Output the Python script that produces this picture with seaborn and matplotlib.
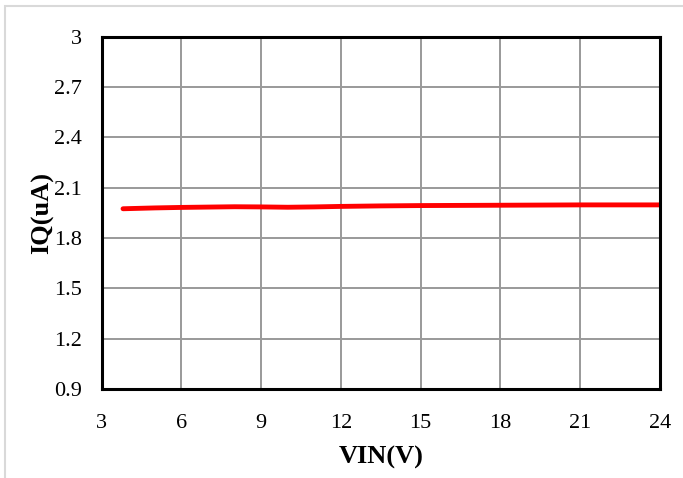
import matplotlib
matplotlib.use("Agg")
import matplotlib.pyplot as plt
import seaborn as sns
import pandas as pd

# data
vin = [3.8, 5.0, 6.0, 7.0, 8.0, 9.0, 10.0, 11.0, 12.0, 13.5, 15.0, 16.5, 18.0, 19.5, 21.0, 22.5, 24.0]
iq = [1.975, 1.980, 1.983, 1.985, 1.987, 1.986, 1.984, 1.986, 1.989, 1.992, 1.994, 1.995, 1.996, 1.997, 1.998, 1.998, 1.998]
x_ticks = [3, 6, 9, 12, 15, 18, 21, 24]
y_ticks = [0.9, 1.2, 1.5, 1.8, 2.1, 2.4, 2.7, 3.0]
y_tick_labels = ["0.9", "1.2", "1.5", "1.8", "2.1", "2.4", "2.7", "3"]

df = pd.DataFrame({"VIN": vin, "IQ": iq})

sns.set_theme(style="white")
plt.rcParams['font.family'] = ['Liberation Serif', 'DejaVu Serif']
plt.rcParams['text.color'] = 'black'
plt.rcParams['axes.labelcolor'] = 'black'
plt.rcParams['xtick.color'] = 'black'
plt.rcParams['ytick.color'] = 'black'

fig = plt.figure(figsize=(6.83, 4.78), dpi=100)
ax = fig.add_axes([0.149, 0.186, 0.817, 0.737])

sns.lineplot(data=df, x="VIN", y="IQ", ax=ax, color="#ff0000", linewidth=3.5,
             solid_capstyle="round")

ax.set_xlim(3, 24)
ax.set_ylim(0.9, 3.0)
ax.set_xticks(x_ticks)
ax.set_yticks(y_ticks)
ax.set_yticklabels(y_tick_labels)
ax.tick_params(axis='x', labelsize=16, length=0, pad=18)
ax.tick_params(axis='y', labelsize=16, length=0, pad=14)
ax.grid(True, color="#999999", linewidth=1.4)
ax.set_axisbelow(True)
for s in ax.spines.values():
    s.set_color("black")
    s.set_linewidth(2.2)
    s.set_visible(True)

ax.set_xlabel("VIN(V)", fontsize=19, fontweight="bold", labelpad=9)
ax.set_ylabel("IQ(uA)", fontsize=19, fontweight="bold", labelpad=0)

# light frame of the screenshot
fig.patches.append(plt.Rectangle((0.007, -0.01), 1.2, 0.998, transform=fig.transFigure,
                                 fill=False, edgecolor="#d9d9d9", linewidth=1.5))

fig.savefig("out.png", dpi=100)
